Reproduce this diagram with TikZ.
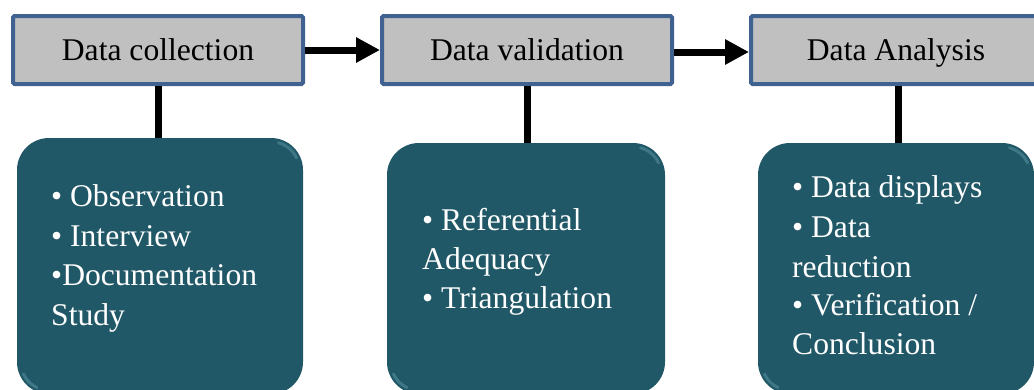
\documentclass[tikz,border=0pt]{standalone}
\usepackage{fontspec}
\setmainfont{Liberation Serif}
\usetikzlibrary{arrows.meta,calc}
\definecolor{tealbox}{HTML}{215867}
\definecolor{tealhl}{HTML}{6AA6B4}
\definecolor{boxgray}{HTML}{C0C0C0}
\definecolor{bordblue}{HTML}{3F6290}
\begin{document}
\begin{tikzpicture}[x=1pt,y=-1pt,
  stage/.style={draw=bordblue, line width=4pt, fill=boxgray, rounded corners=1.5pt,
    inner sep=0pt, text height=21pt, text depth=0pt,
    font=\fontsize{31.6}{37}\selectfont, text=black},
  card/.style={fill=tealbox, rounded corners=32pt, inner sep=0pt},
  item/.style={anchor=base west, inner sep=0pt, text=white,
    font=\fontsize{31.6}{37}\selectfont},
  conn/.style={line width=7pt, draw=black},
  arr/.style={line width=7pt, draw=black, -{Triangle[length=24pt,width=24pt]}},
  hl/.style={draw=tealhl, line width=3pt, opacity=0.4, line cap=round}]
\useasboundingbox (0,0) rectangle (1034,389);

% teal cards
\node[card, minimum width=286pt, minimum height=256pt] (t1) at (160,266) {};
\node[card, minimum width=278pt, minimum height=251pt] (t2) at (526,268.5) {};
\node[card, minimum width=276pt, minimum height=251pt] (t3) at (896,268.5) {};

% bevel highlights
\foreach \t in {t1,t2,t3}{
  \draw[hl] ($(\t.north east)+(-32,32)$) ++(-75:28) arc[start angle=-75,end angle=-25,radius=28];
  \draw[hl] ($(\t.south west)+(32,-32)$) ++(155:28) arc[start angle=155,end angle=115,radius=28];
}

% gray stage boxes
\node[stage, minimum width=290pt, minimum height=68pt] (g1) at (158,50) {Data collection};
\node[stage, minimum width=290pt, minimum height=68pt] (g2) at (527,50) {Data validation};
\node[stage, minimum width=290pt, minimum height=68pt] (g3) at (896,50) {Data Analysis};

% connectors
\draw[conn] (g1.south) -- (g1.south |- t1.north);
\draw[conn] (g2.south) -- (g2.south |- t2.north);
\draw[conn] ([xshift=2pt]g3.south) -- ([xshift=2pt]g3.south |- t3.north);
\draw[arr] (g1.east) -- (g2.west);
\draw[arr] ([yshift=-2pt]g2.east) -- ([yshift=-2pt]g3.west);

% card texts
\node[item] (a1) at (51,206) {• Observation};
\node[item] (a2) at (51,246) {• Interview};
\node[item] (a3) at (51,285) {•Documentation};
\node[item] (a4) at (51,325) {Study};

\node[item] (b1) at (422,230) {• Referential};
\node[item] (b2) at (422,269) {Adequacy};
\node[item] (b3) at (422,308) {• Triangulation};

\node[item] (c1) at (792,197) {• Data displays};
\node[item] (c2) at (792,237) {• Data};
\node[item] (c3) at (792,277) {reduction};
\node[item] (c4) at (792,315) {• Verification /};
\node[item] (c5) at (792,354) {Conclusion};
\end{tikzpicture}
\end{document}
